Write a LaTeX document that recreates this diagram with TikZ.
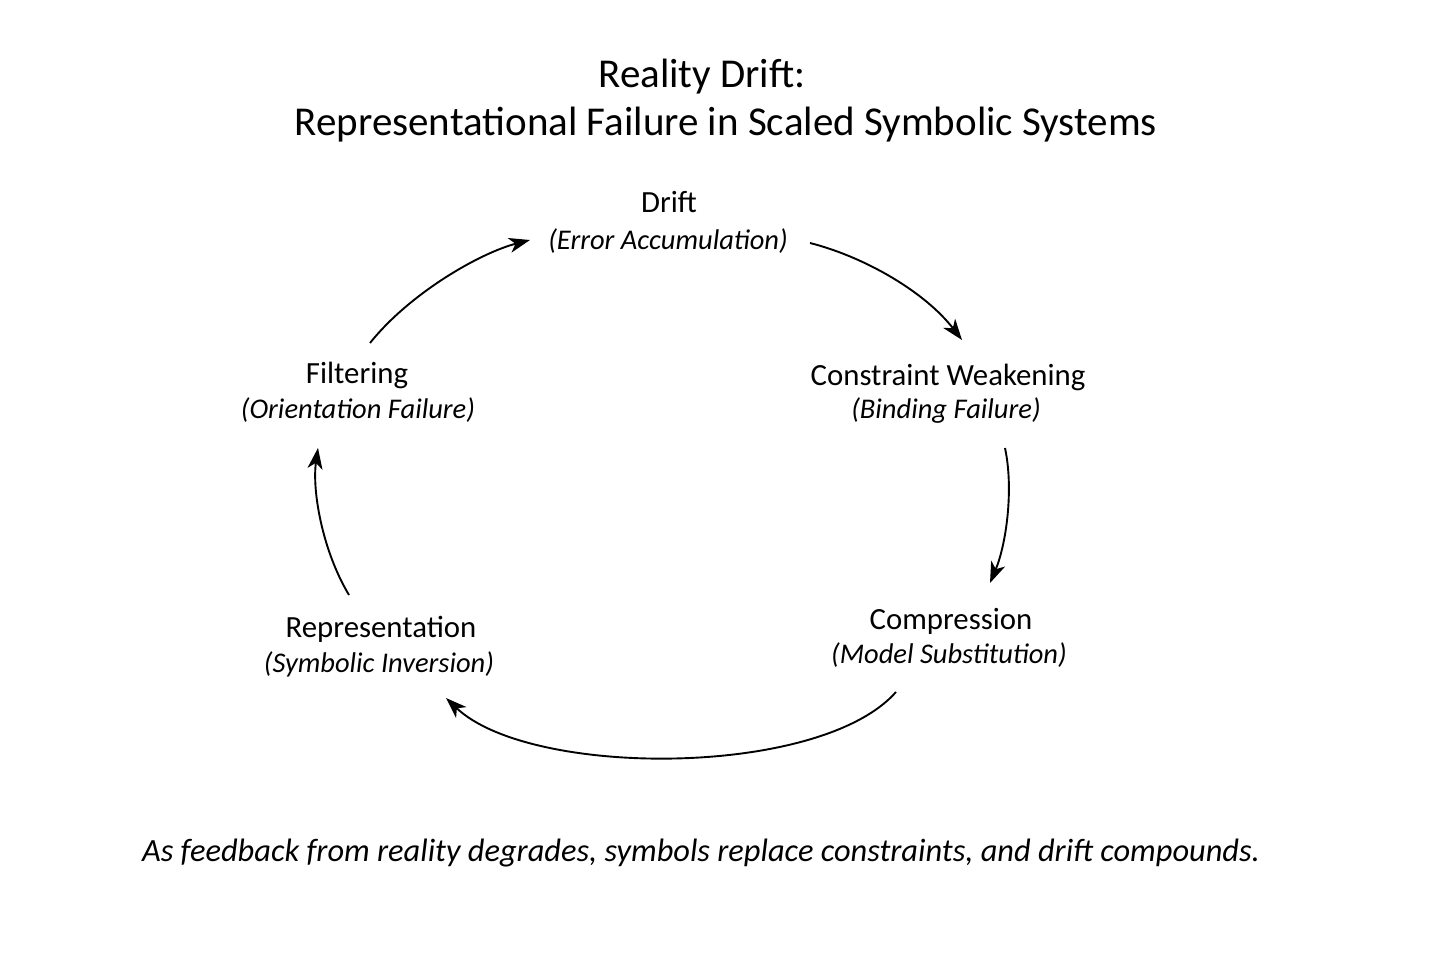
\documentclass[tikz,border=0pt]{standalone}
\usepackage{fontspec}
\setmainfont{Carlito}
\usetikzlibrary{arrows.meta}
\begin{document}
\begin{tikzpicture}[x=1pt,y=-1pt,
  lab/.style={font=\fontsize{30.8}{34}\selectfont, inner sep=0pt},
  sub/.style={font=\fontsize{28.5}{32}\itshape\selectfont, inner sep=0pt},
  ttl/.style={font=\fontsize{41}{46}\selectfont, inner sep=0pt},
  captext/.style={font=\fontsize{32.4}{36}\itshape\selectfont, inner sep=0pt},
  flow/.style={line width=1.9pt, -{Stealth[length=21pt,width=15pt,inset=6pt]}}]
\useasboundingbox (0,0) rectangle (1456,971);
\fill[white] (0,0) rectangle (1456,971);
% title
\node[ttl] (t1) at (702,77) {Reality Drift:};
\node[ttl] (t2) at (726,125) {Representational Failure in Scaled Symbolic Systems};
% stage nodes
\node[lab] (drift) at (669,202) {Drift};
\node[sub] (drifts) at (668,241) {(Error Accumulation)};
\node[lab] (cw) at (948,377) {Constraint Weakening};
\node[sub] (cws) at (946,411) {(Binding Failure)};
\node[lab] (comp) at (951,621) {Compression};
\node[sub] (comps) at (949,655) {(Model Substitution)};
\node[lab] (rep) at (381,629) {Representation};
\node[sub] (reps) at (379,664) {(Symbolic Inversion)};
\node[lab] (filt) at (357,375) {Filtering};
\node[sub] (filts) at (358,410) {(Orientation Failure)};
% caption
\node[captext] (capt) at (701,853) {As feedback from reality degrades, symbols replace constraints, and drift compounds.};
% arrow end points
\coordinate (a1s) at (370,343); \coordinate (a1e) at (530,240);
\coordinate (a2s) at (810,243); \coordinate (a2e) at (962,340);
\coordinate (a3s) at (1005,448); \coordinate (a3e) at (990,583);
\coordinate (a4s) at (896,692); \coordinate (a4e) at (446,698);
\coordinate (a5s) at (349,595); \coordinate (a5e) at (318,448);
\draw[flow] (a1s) .. controls (410,293) and (480,253) .. (a1e);
\draw[flow] (a2s) .. controls (865,257) and (925,292) .. (a2e);
\draw[flow] (a3s) .. controls (1014,490) and (1006,545) .. (a3e);
\draw[flow] (a4s) .. controls (820,778) and (530,778) .. (a4e);
\draw[flow] (a5s) .. controls (322,550) and (312,490) .. (a5e);
\end{tikzpicture}
\end{document}
